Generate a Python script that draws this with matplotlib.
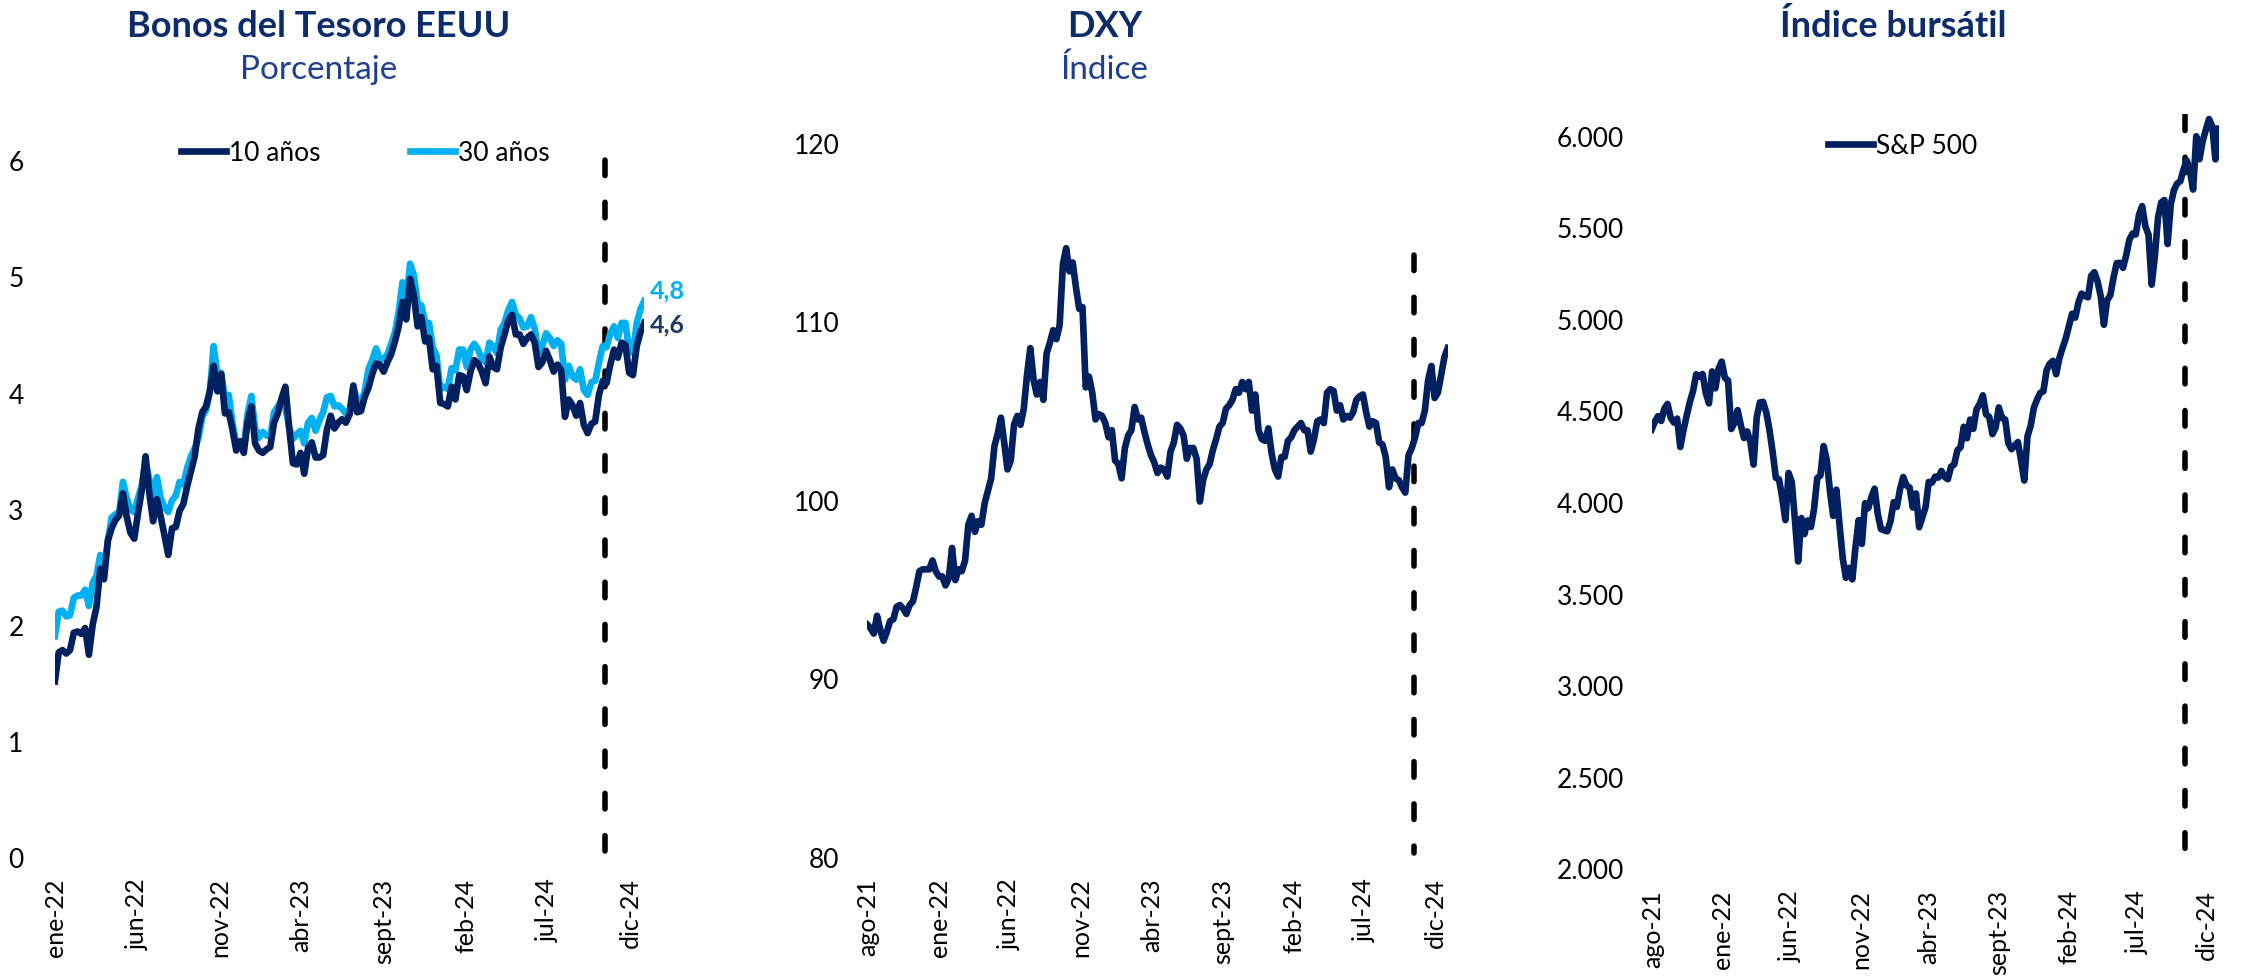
import numpy as np
import pandas as pd
import matplotlib
matplotlib.use("Agg")
import matplotlib.pyplot as plt
import matplotlib.dates as mdates
from matplotlib.ticker import FuncFormatter

plt.rcParams['font.family'] = ['Lato', 'DejaVu Sans']

# --- datos (cierres semanales, viernes) ---
bonos_inicio = "2021-12-31"
bono_10 = [1.51,
           1.76, 1.78, 1.75, 1.78, 1.93, 1.94, 1.92, 1.97, 1.74, 2.00, 2.15, 2.48,
           2.39, 2.72, 2.83, 2.90, 2.94, 3.13, 2.93, 2.79, 2.74, 2.96, 3.16, 3.45, 3.13,
           2.89, 3.08, 2.93, 2.77, 2.60, 2.83, 2.84, 2.98, 3.04, 3.19, 3.32, 3.45, 3.69, 3.83,
           3.88, 4.01, 4.23, 4.01, 4.16, 3.82, 3.83, 3.68, 3.50, 3.58, 3.48, 3.75, 3.88,
           3.56, 3.50, 3.48, 3.51, 3.53, 3.74, 3.82, 3.95, 4.05, 3.70, 3.39, 3.38, 3.48,
           3.30, 3.52, 3.57, 3.44, 3.44, 3.46, 3.68, 3.80, 3.69, 3.74, 3.77, 3.74, 3.81,
           4.06, 3.83, 3.84, 3.96, 4.04, 4.16, 4.25, 4.24, 4.18, 4.26, 4.33, 4.44, 4.57,
           4.78, 4.63, 4.98, 4.84, 4.57, 4.65, 4.44, 4.47, 4.20, 4.23, 3.91, 3.90, 3.88,
           4.05, 3.94, 4.15, 4.14, 4.02, 4.18, 4.28, 4.25, 4.18, 4.08, 4.31, 4.22, 4.20,
           4.39, 4.50, 4.62, 4.67, 4.50, 4.50, 4.42, 4.47, 4.50, 4.43, 4.22, 4.26, 4.36,
           4.28, 4.18, 4.24, 4.19, 3.79, 3.94, 3.89, 3.80, 3.91, 3.72, 3.65, 3.73, 3.75,
           3.98, 4.10, 4.08, 4.24, 4.37, 4.30, 4.43, 4.41, 4.17, 4.15, 4.40, 4.52, 4.60]
bono_30 = [1.90,
           2.11, 2.12, 2.07, 2.08, 2.23, 2.25, 2.25, 2.30, 2.16, 2.36, 2.42, 2.60,
           2.44, 2.72, 2.92, 2.95, 2.96, 3.23, 3.09, 2.99, 2.97, 3.09, 3.20, 3.40, 3.25,
           3.11, 3.27, 3.09, 3.01, 2.97, 3.07, 3.11, 3.23, 3.21, 3.35, 3.45, 3.52, 3.61, 3.79,
           3.85, 4.00, 4.40, 4.15, 4.17, 3.95, 3.98, 3.74, 3.56, 3.56, 3.52, 3.82, 3.97,
           3.69, 3.61, 3.66, 3.63, 3.62, 3.83, 3.88, 3.93, 3.87, 3.70, 3.60, 3.64, 3.67,
           3.56, 3.74, 3.78, 3.67, 3.76, 3.83, 3.96, 3.97, 3.88, 3.89, 3.86, 3.82, 3.85,
           4.05, 3.93, 3.91, 4.01, 4.20, 4.28, 4.38, 4.29, 4.29, 4.33, 4.42, 4.52, 4.70,
           4.95, 4.78, 5.11, 5.01, 4.77, 4.75, 4.60, 4.60, 4.39, 4.32, 4.03, 4.05, 4.03,
           4.21, 4.19, 4.37, 4.37, 4.22, 4.37, 4.42, 4.37, 4.29, 4.26, 4.43, 4.40, 4.34,
           4.54, 4.60, 4.71, 4.78, 4.67, 4.64, 4.56, 4.57, 4.65, 4.55, 4.34, 4.40, 4.51,
           4.47, 4.40, 4.45, 4.42, 4.11, 4.23, 4.14, 4.11, 4.20, 4.02, 3.98, 4.09, 4.10,
           4.26, 4.40, 4.39, 4.51, 4.57, 4.47, 4.60, 4.60, 4.36, 4.34, 4.60, 4.72, 4.79]

mercado_inicio = "2021-07-30"
dxy = [93.0, 92.8, 92.5, 93.5, 92.7, 92.1, 92.6, 93.2, 93.3, 94.0, 94.1, 93.9, 93.6, 94.1,
       94.3, 95.1, 96.0, 96.1, 96.1, 96.1, 96.6, 96.0, 95.7,
       95.7, 95.2, 95.6, 97.3, 95.5, 96.1, 96.0, 96.6, 98.6, 99.1, 98.2, 98.8,
       98.6, 99.8, 100.5, 101.2, 103.0, 103.7, 104.6, 103.2, 101.7, 102.2, 104.2, 104.7, 104.2,
       105.1, 107.0, 108.5, 106.7, 105.9, 106.6, 105.6, 108.2, 108.8,
       109.5, 109.0, 109.8, 113.2, 114.1, 112.8, 113.3, 111.9, 110.7,
       110.8, 106.3, 106.9, 106.0, 104.5, 104.8, 104.7, 104.3, 103.5,
       103.9, 102.2, 102.0, 101.2, 102.9, 103.6, 103.9, 105.2, 104.5, 104.6, 103.8, 103.1, 102.5,
       102.1, 101.5, 101.8, 101.7, 101.3, 102.7, 103.2, 104.2, 104.0, 103.6, 102.3, 102.9, 102.9,
       102.3, 99.9, 101.1, 101.7, 102.0, 102.8, 103.4, 104.1, 104.3, 105.1, 105.3, 105.6, 106.2,
       106.0, 106.6, 106.2, 106.6, 105.0, 105.9, 103.9, 103.4, 103.3, 104.0, 102.6, 101.7, 101.3,
       102.4, 102.4, 103.3, 103.5, 103.9, 104.1, 104.3, 103.9, 103.9, 102.7, 103.4, 104.4, 104.5,
       104.3, 106.0, 106.2, 106.1, 105.0, 105.3, 104.5, 104.7, 104.6, 104.9, 105.6, 105.8, 105.9,
       104.9, 104.1, 104.4, 104.3, 103.2, 103.1, 102.4, 100.7, 101.7, 101.2, 101.1, 100.7, 100.4,
       102.5, 102.9, 103.5, 104.3, 104.3, 105.0, 106.7, 107.5, 105.7, 106.0, 107.0, 108.0, 108.5]
sp500 = [4395, 4437, 4468, 4442, 4509, 4535, 4459, 4433, 4455, 4300, 4391, 4471, 4545, 4605,
         4697, 4683, 4698, 4595, 4538, 4712, 4620, 4726, 4766,
         4677, 4663, 4398, 4432, 4501, 4419, 4349, 4385, 4329, 4204, 4463, 4543,
         4546, 4488, 4393, 4272, 4132, 4123, 4024, 3901, 4158, 4109, 3901, 3675, 3912,
         3825, 3899, 3863, 3962, 4130, 4145, 4305, 4228, 4058,
         3924, 4067, 3873, 3693, 3586, 3640, 3577, 3752, 3901,
         3771, 3993, 3965, 4027, 4072, 3934, 3852, 3845, 3840,
         3895, 3999, 3973, 4071, 4136, 4090, 4079, 3970, 4046, 3862, 3917, 3971, 4109,
         4105, 4138, 4133, 4169, 4136, 4124, 4192, 4205, 4282, 4299, 4410, 4348, 4450,
         4399, 4505, 4536, 4582, 4478, 4464, 4370, 4406, 4516, 4457, 4450, 4320, 4288,
         4308, 4327, 4224, 4117, 4358, 4415, 4514, 4559, 4595, 4604, 4719, 4755, 4770,
         4697, 4784, 4840, 4891, 4959, 5027, 5006, 5089, 5137, 5124, 5117, 5234, 5254,
         5204, 5123, 4967, 5100, 5128, 5223, 5303, 5305, 5278, 5347, 5432, 5465, 5460,
         5567, 5615, 5505, 5459, 5186, 5344, 5554, 5635, 5648, 5408, 5626, 5703, 5738,
         5751, 5815, 5864, 5808, 5705, 5996, 5871, 5969, 6032, 6090, 6051, 5870, 6037]

fecha_corte = "2024-10-15"
ticks_bonos = ["2022-01-01", "2022-06-01", "2022-11-01", "2023-04-01", "2023-09-01",
               "2024-02-01", "2024-07-01", "2024-12-01"]
ticks_mercado = ["2021-08-01"] + ticks_bonos
meses = ["ene", "feb", "mar", "abr", "may", "jun", "jul", "ago", "sept", "oct", "nov", "dic"]

fechas_bonos = pd.date_range(bonos_inicio, periods=len(bono_10), freq="W-FRI")
fechas_mercado = pd.date_range(mercado_inicio, periods=len(dxy), freq="W-FRI")

azul = "#002060"
celeste = "#00B0F0"
titulo_col = "#0D2C6C"
sub_col = "#1F3F8F"
grosor = 4.8

fig = plt.figure(figsize=(22.41, 9.79), dpi=100)


def etiqueta_fecha(x, pos):
    d = mdates.num2date(x)
    return f"{meses[d.month - 1]}-{d.strftime('%y')}"


def preparar(ax, ticks, yticks, fmt):
    for s in ax.spines.values():
        s.set_visible(False)
    ax.set_xticks(pd.to_datetime(ticks))
    ax.xaxis.set_major_formatter(FuncFormatter(etiqueta_fecha))
    ax.set_yticks(yticks)
    ax.yaxis.set_major_formatter(FuncFormatter(fmt))
    ax.tick_params(axis="both", length=0, labelsize=19)
    ax.tick_params(axis="x", rotation=90, pad=15, labelsize=18)
    ax.tick_params(axis="y", pad=20)
    for lab in ax.get_yticklabels():
        lab.set_horizontalalignment("right")


def corte(ax, y_arriba, y_abajo):
    # se dibuja de arriba hacia abajo para que el patron empiece arriba
    ax.plot(pd.to_datetime([fecha_corte, fecha_corte]), [y_arriba, y_abajo], color="black", lw=4.0,
            linestyle=(0, (2.8, 4.8)), dash_capstyle="round", zorder=1)


# Bonos del Tesoro
ax1 = fig.add_axes([0.0245, 0.124, 0.263, 0.717])
ax1.plot(fechas_bonos, bono_10, color=azul, lw=grosor, label="10 años", zorder=3)
ax1.plot(fechas_bonos, bono_30, color=celeste, lw=grosor, label="30 años", zorder=2)
corte(ax1, 6.0, 0.05)
ax1.set_ylim(0, 6.05)
ax1.set_xlim(fechas_bonos[0], fechas_bonos[-1])
preparar(ax1, ticks_bonos, range(0, 7), lambda v, p: f"{v:.0f}")
for lab in ax1.get_yticklabels():
    lab.set_horizontalalignment("center")
ax1.tick_params(axis="y", pad=28)
ax1.annotate("4,8", (fechas_bonos[-1], bono_30[-1]), xytext=(4, 8), textcoords="offset points",
             color=celeste, fontsize=18, fontweight="bold", va="center", ha="left")
ax1.annotate("4,6", (fechas_bonos[-1], bono_10[-1]), xytext=(4, -1), textcoords="offset points",
             color="#1F3864", fontsize=18, fontweight="bold", va="center", ha="left")
ax1.legend(loc="center", bbox_to_anchor=(0.163, 0.843), bbox_transform=fig.transFigure,
           ncol=2, frameon=False, fontsize=19, handlelength=1.7, handletextpad=0.1,
           columnspacing=3.4)

# DXY
ax2 = fig.add_axes([0.387, 0.124, 0.259, 0.729])
ax2.plot(fechas_mercado, dxy, color=azul, lw=grosor, zorder=3)
corte(ax2, 113.7, 80.2)
ax2.set_ylim(80, 120)
ax2.set_xlim(fechas_mercado[0], fechas_mercado[-1])
preparar(ax2, ticks_mercado, range(80, 121, 10), lambda v, p: f"{v:.0f}")

# Indice bursatil
ax3 = fig.add_axes([0.737, 0.112, 0.253, 0.771])
ax3.plot(fechas_mercado, sp500, color=azul, lw=grosor, label="S&P 500", zorder=3)
corte(ax3, 6110, 2030)
ax3.set_ylim(2000, 6120)
ax3.set_xlim(fechas_mercado[0], fechas_mercado[-1])
preparar(ax3, ticks_mercado, range(2000, 6001, 500), lambda v, p: f"{v:,.0f}".replace(",", "."))
ax3.legend(loc="center", bbox_to_anchor=(0.849, 0.85), bbox_transform=fig.transFigure,
           frameon=False, fontsize=19, handlelength=1.7, handletextpad=0.1)

# titulos
titulos = [(0.142, "Bonos del Tesoro EEUU", "Porcentaje"),
           (0.493, "DXY", "Índice"),
           (0.845, "Índice bursátil", "")]
for x, t, s in titulos:
    fig.text(x, 0.973, t, ha="center", va="center", fontsize=26, fontweight="bold", color=titulo_col)
    if s:
        fig.text(x, 0.929, s, ha="center", va="center", fontsize=24, color=sub_col)

fig.savefig("out.png", dpi=100)
